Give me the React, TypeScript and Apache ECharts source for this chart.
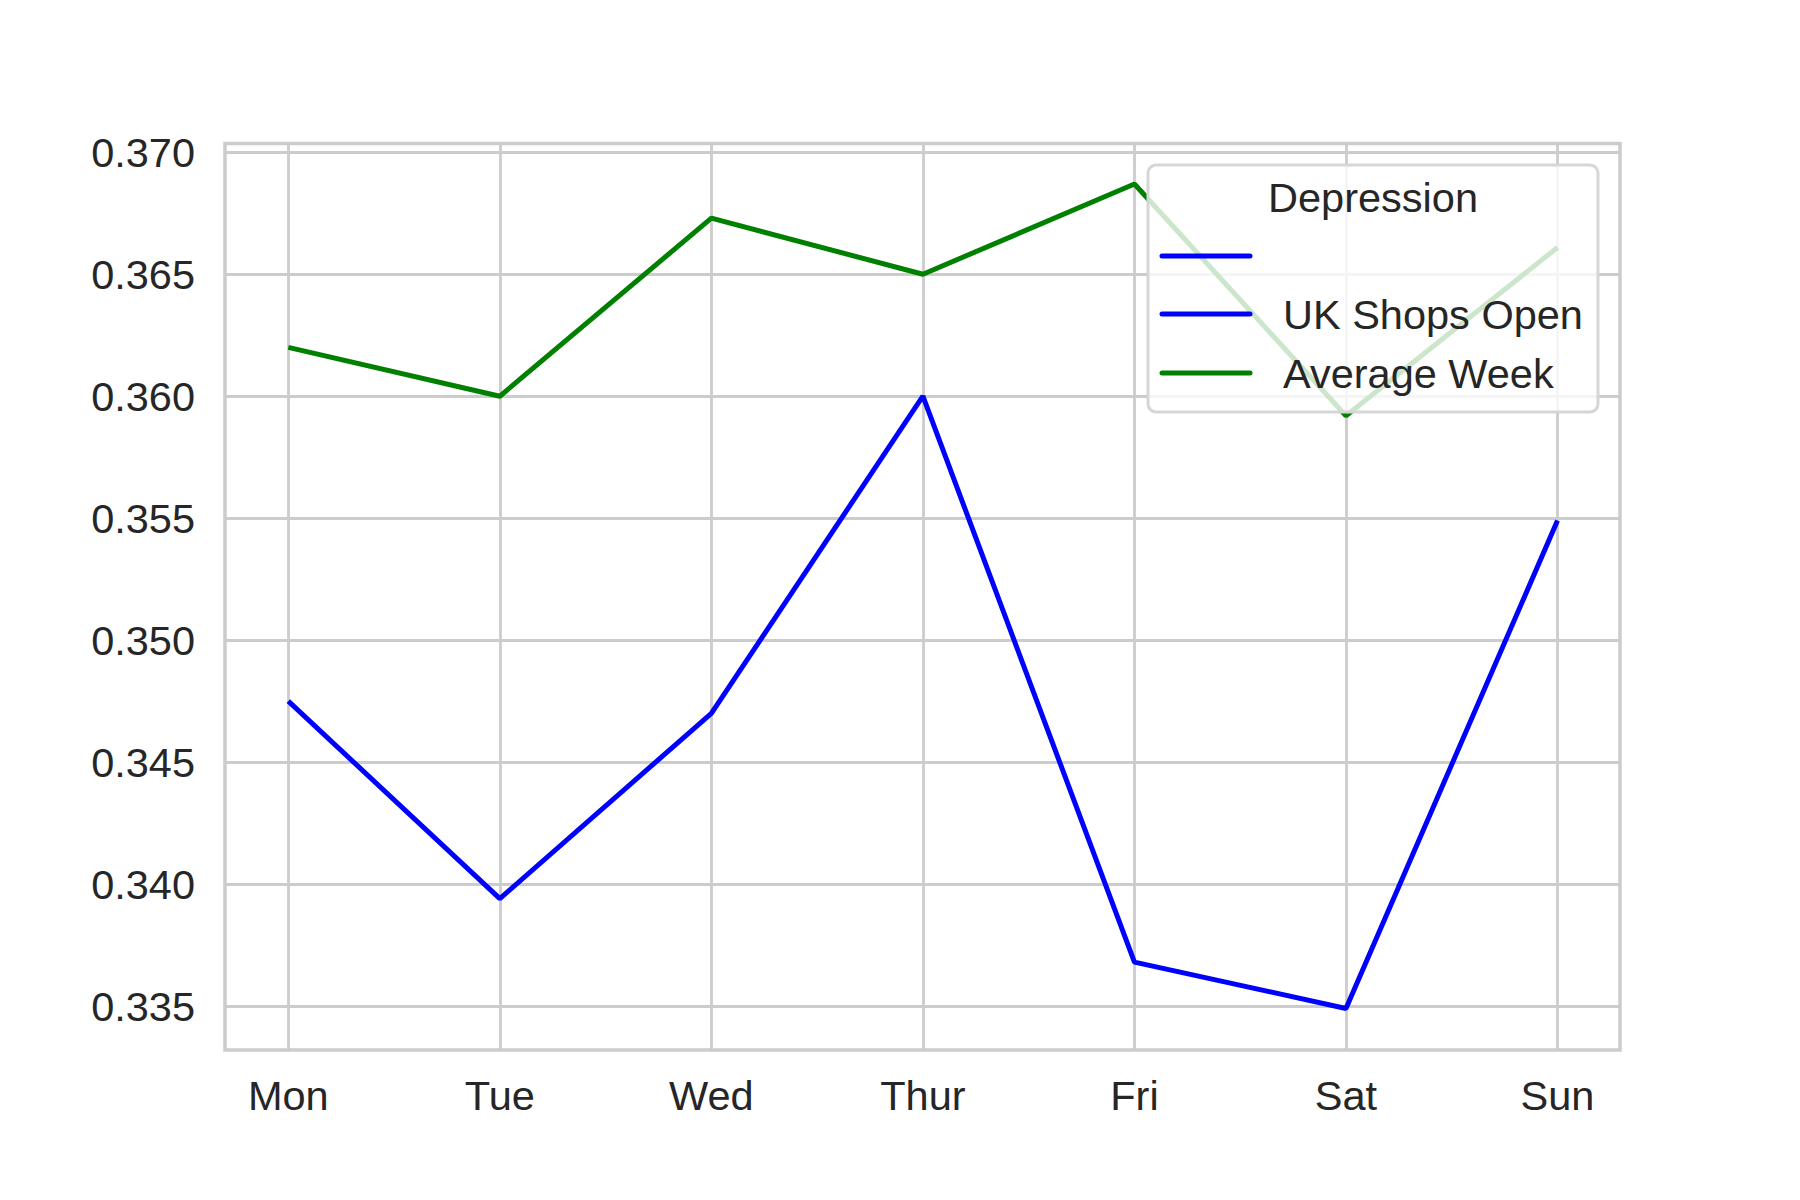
import React, { useEffect, useRef } from "react";
import * as echarts from "echarts";

const days = ["Mon", "Tue", "Wed", "Thur", "Fri", "Sat", "Sun"];
const seriesNames = ["", "UK Shops Open", "Average Week"];
const seriesColors = ["#0000ff", "#0000ff", "#008000"];
const blankSeries: number[] = [];
const ukShopsOpen = [0.3475, 0.3394, 0.347, 0.36, 0.3368, 0.3349, 0.3549];
const averageWeek = [0.362, 0.36, 0.3673, 0.365, 0.3687, 0.3592, 0.3661];
const legendTitle = "Depression";
const yMin = 0.335;
const yMax = 0.37;
const yStep = 0.005;

const FONT = "'Liberation Sans', Arial, sans-serif";
const FS = 41.5;
const TEXT = "#262626";
const GRID = "#cccccc";

export default function App() {
  const ref = useRef<HTMLDivElement>(null);
  useEffect(() => {
    if (!ref.current) return;
    const chart = echarts.init(ref.current, undefined, { renderer: "svg" });
    const seriesData = [blankSeries, ukShopsOpen, averageWeek];

    const legendX = 1148;
    const legendY = 165;
    const legendW = 450;
    const legendH = 247;
    const rowYs = [256, 314, 373];
    const LZ = 100;

    const legendElements: any[] = [
      {
        type: "rect",
        z: LZ,
        silent: true,
        shape: { x: legendX, y: legendY, width: legendW, height: legendH, r: 8 },
        style: { fill: "rgba(255,255,255,0.8)", stroke: "#d6d6d6", lineWidth: 3 },
      },
      {
        type: "text",
        z: LZ + 1,
        x: legendX + legendW / 2,
        y: 197,
        style: {
          text: legendTitle,
          fill: TEXT,
          font: `${FS}px ${FONT}`,
          align: "center",
          verticalAlign: "middle",
        },
      },
    ];
    seriesNames.forEach((name, i) => {
      legendElements.push({
        type: "line",
        z: LZ + 1,
        shape: { x1: 1162, y1: rowYs[i], x2: 1250, y2: rowYs[i] },
        style: { stroke: seriesColors[i], lineWidth: 5, lineCap: "round" },
      });
      legendElements.push({
        type: "text",
        z: LZ + 1,
        x: 1283,
        y: rowYs[i],
        style: {
          text: name,
          fill: TEXT,
          font: `${FS}px ${FONT}`,
          align: "left",
          verticalAlign: "middle",
        },
      });
    });

    chart.setOption({
      animation: false,
      backgroundColor: "#ffffff",
      grid: [
        { left: 225, right: 180, top: 152.3, bottom: 194 },
        { left: 288.3, right: 242.5, top: 143, bottom: 150 },
        { left: 288.3, right: 242.5, top: 152.3, bottom: 194 },
      ],
      xAxis: [
        { type: "value", gridIndex: 0, min: 0, max: 1, show: false },
        {
          type: "category",
          gridIndex: 1,
          data: days,
          boundaryGap: false,
          axisLine: { show: false },
          axisTick: { show: false },
          axisLabel: {
            interval: 0,
            margin: 24,
            fontSize: FS,
            fontFamily: FONT,
            color: TEXT,
          },
          splitLine: { show: true, interval: 0, lineStyle: { color: GRID, width: 2.8 } },
        },
        { type: "category", gridIndex: 2, data: days, boundaryGap: false, show: false },
      ],
      yAxis: [
        {
          type: "value",
          gridIndex: 0,
          min: yMin,
          max: yMax,
          interval: yStep,
          axisLine: { show: false },
          axisTick: { show: false },
          axisLabel: {
            margin: 30,
            fontSize: FS,
            fontFamily: FONT,
            color: TEXT,
            formatter: (v: number) => v.toFixed(3),
          },
          splitLine: { show: true, lineStyle: { color: GRID, width: 2.8 } },
        },
        { type: "value", gridIndex: 1, show: false, min: 0, max: 1 },
        { type: "value", gridIndex: 2, show: false, min: yMin, max: yMax },
      ],
      series: seriesNames.map((name, i) => ({
        type: "line",
        name,
        xAxisIndex: 2,
        yAxisIndex: 2,
        data: seriesData[i],
        showSymbol: false,
        symbol: "none",
        clip: false,
        z: 3,
        lineStyle: { color: seriesColors[i], width: 5 },
      })),
      graphic: [
        {
          type: "rect",
          z: 1,
          silent: true,
          shape: { x: 225, y: 143.5, width: 1395, height: 906.5 },
          style: { fill: "none", stroke: GRID, lineWidth: 3.5 },
        },
        ...legendElements,
      ],
    });
    return () => chart.dispose();
  }, []);

  return (
    <div
      ref={ref}
      style={{ position: "fixed", left: 0, top: 0, width: 1800, height: 1200 }}
    />
  );
}
